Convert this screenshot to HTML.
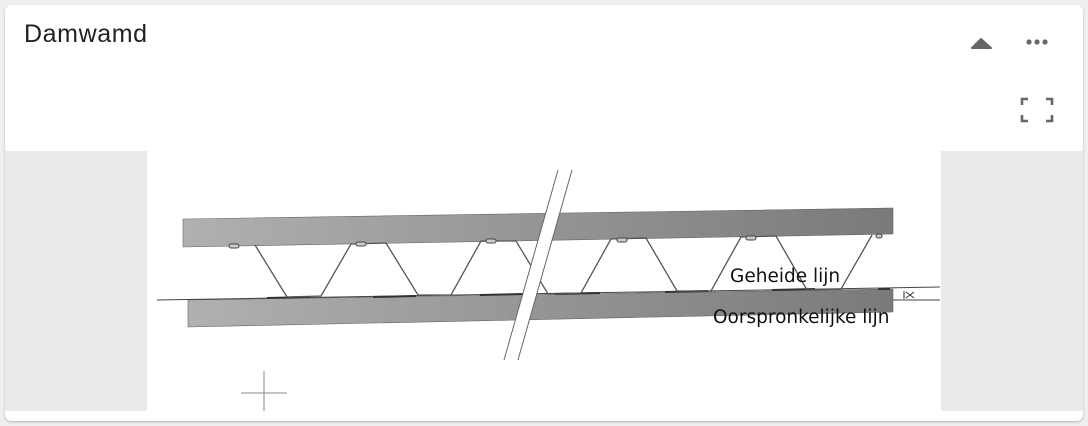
<!DOCTYPE html>
<html><head><style>
body{margin:0;background:#efefef;width:1088px;height:426px;overflow:hidden;font-family:"Liberation Sans",sans-serif}
.card{position:absolute;left:5px;top:5px;width:1078px;height:416px;background:#fff;border-radius:6px;box-shadow:0 1px 2px rgba(0,0,0,.25);overflow:hidden}
.title{position:absolute;left:19px;top:15px;font-size:25px;letter-spacing:0.6px;color:#222}
.gray{position:absolute;left:0;top:146px;width:1078px;height:260px;background:#ebeae8}
</style></head><body>
<div class="card">
<div class="title">Damwamd</div>
<svg style="position:absolute;left:0;top:0" width="1078" height="146">
<polygon points="967,43 976,34 986,43" fill="#666" stroke="#666" stroke-width="2" stroke-linejoin="round"/>
<circle cx="1024" cy="37" r="2.6" fill="#666"/><circle cx="1032" cy="37" r="2.6" fill="#666"/><circle cx="1040" cy="37" r="2.6" fill="#666"/>
<g fill="none" stroke="#666" stroke-width="2.6">
<polyline points="1017,100 1017,94 1023,94"/><polyline points="1041,94 1047,94 1047,100"/>
<polyline points="1017,110 1017,116 1023,116"/><polyline points="1041,116 1047,116 1047,110"/>
</g></svg>
<div class="gray"></div>
</div>
<svg style="position:absolute;left:147px;top:151px" width="794" height="260" viewBox="147 151 794 260">
<defs><linearGradient id="g" x1="0" x2="1"><stop offset="0" stop-color="#b0b0b0"/><stop offset="1" stop-color="#7a7a7a"/></linearGradient></defs>
<rect x="147" y="151" width="794" height="260" fill="#fff"/>
<polygon points="183,219 893,208 893,234 183,247" fill="url(#g)" stroke="#666" stroke-width=".6"/>
<polygon points="188,300 893,289 893,312 188,327" fill="url(#g)" stroke="#666" stroke-width=".6"/>
<line x1="157" y1="300" x2="940" y2="287" stroke="#444" stroke-width="1"/>
<line x1="893" y1="300" x2="940" y2="300" stroke="#444" stroke-width="1"/>
<path d="M906,292 L914,298 M914,292 L906,298 M904,291 V299" stroke="#333" stroke-width="1"/>
<g stroke="#333" stroke-width="2">
<line x1="267" y1="298" x2="310" y2="297"/><line x1="373" y1="297" x2="416" y2="296"/>
<line x1="480" y1="295" x2="523" y2="294"/><line x1="555" y1="294" x2="600" y2="293"/>
<line x1="665" y1="292" x2="708" y2="291"/><line x1="772" y1="290" x2="815" y2="289"/><line x1="878" y1="289" x2="890" y2="289"/>
</g>
<polyline fill="none" stroke="#555" stroke-width="1.3" points="255,245 287,297 321,296 351,244 386,243 418,295 451,295 481,241 516,241 548,294 581,293 611,239 646,238 677,291 711,291 741,237 776,236 807,290 841,289 872,235"/>
<g fill="#ccc" stroke="#444" stroke-width="1">
<rect x="229" y="244" width="10" height="4" rx="2"/><rect x="356" y="242" width="10" height="4" rx="2"/><rect x="486" y="239" width="10" height="4" rx="2"/><rect x="617" y="238" width="10" height="4" rx="2"/><rect x="746" y="236" width="10" height="4" rx="2"/><rect x="876" y="234" width="6" height="4" rx="2"/>
</g>
<polygon points="558,170 572,170 518,360 504,360" fill="#fff"/>
<line x1="558" y1="170" x2="504" y2="360" stroke="#666" stroke-width="1"/>
<line x1="572" y1="170" x2="518" y2="360" stroke="#666" stroke-width="1"/>
<text x="730" y="282" font-size="18.5" fill="#111" font-family="DejaVu Sans,sans-serif">Geheide lijn</text>
<text x="713" y="323" font-size="18.5" fill="#111" font-family="DejaVu Sans,sans-serif">Oorspronkelijke lijn</text>
<line x1="264" y1="371" x2="264" y2="411" stroke="#888"/><line x1="241" y1="393" x2="287" y2="393" stroke="#888"/>
</svg>
</body></html>
